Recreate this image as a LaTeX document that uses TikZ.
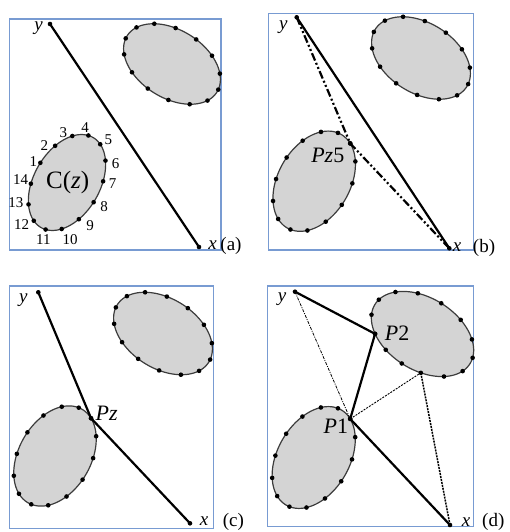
\documentclass[tikz,border=0pt]{standalone}
\usepackage{fontspec}
\setmainfont{Liberation Serif}
\definecolor{framec}{RGB}{120,155,210}
\definecolor{blobfill}{RGB}{212,212,212}
\definecolor{blobedge}{RGB}{60,60,60}
\tikzset{
 panel/.style={draw=framec, line width=1.3pt},
 blob/.style={fill=blobfill, draw=blobedge, line width=1.2pt},
 pdot/.style={fill=black},
 mainline/.style={line width=2.2pt, black, line cap=round, line join=round},
 ddline/.style={line width=2.2pt, black, dash pattern=on 8pt off 2.5pt on 2pt off 2.5pt on 2pt off 2.5pt},
 thindd/.style={line width=0.8pt, black, dash pattern=on 3pt off 1.2pt on 1pt off 1.2pt},
 dotline/.style={line width=0.9pt, black, dash pattern=on 2pt off 1.2pt},
 dbline/.style={line width=1.5pt, black, dash pattern=on 2pt off 1pt},
 lab/.style={font=\fontsize{19}{19}\selectfont, inner sep=0pt},
 plab/.style={font=\fontsize{22}{22}\selectfont, inner sep=0pt},
 num/.style={font=\fontsize{15}{15}\selectfont, inner sep=0pt},
}
\newcommand\drawblob[5]{\filldraw[blob] plot[domain=0:360,samples=120,variable=\t] ({#1+#3*cos(\t)*cos(#5)-#4*sin(\t)*sin(#5)},{#2+#3*cos(\t)*sin(#5)+#4*sin(\t)*cos(#5)}) -- cycle;}
\newcommand\blobpt[7]{\coordinate (#7) at ({#1+#3*cos(#6)*cos(#5)-#4*sin(#6)*sin(#5)},{#2+#3*cos(#6)*sin(#5)+#4*sin(#6)*cos(#5)});}
\newcommand\blobdots[7]{\foreach \k in {1,...,14}{\pgfmathsetmacro\tang{#6+(\k-1)*360/14}\blobpt{#1}{#2}{#3}{#4}{#5}{\tang}{#7\k}\fill[pdot] (#7\k) circle[radius=2.3pt];}}
\begin{document}
\begin{tikzpicture}[x=1pt,y=-1pt]
\useasboundingbox (0,0) rectangle (509,532);
% ---------------- panel (a)
\draw[panel] (9.3,19) rectangle (221,250);
\drawblob{172}{64}{53}{34}{32}
\blobdots{172}{64}{53}{34}{32}{21}{au}
\drawblob{67}{182.5}{52}{33}{-60}
\node[inner sep=0pt, font=\fontsize{25}{25}\selectfont] (cz) at (67.7,182.5) {C(\textit{z})};
\coordinate (ya) at (50,24);
\coordinate (xa) at (199,247);
\draw[mainline] (ya) -- (xa);
\fill[pdot] (ya) circle[radius=2.3pt];
\fill[pdot] (xa) circle[radius=2.3pt];
\blobdots{67}{182.5}{52}{33}{-60}{-85.86}{al}
\node[lab] (lya) at (38.5,28) {\textit{y}};
\node[lab] (lxa) at (212.5,245.5) {\textit{x}};
\node[lab] (capa) at (231,246) {(a)};
\node[num] (n1) at (33.3,161.7) {1};
\node[num] (n2) at (44.3,146) {2};
\node[num] (n3) at (63.3,132.7) {3};
\node[num] (n4) at (85,127.3) {4};
\node[num] (n5) at (108.3,139.3) {5};
\node[num] (n6) at (115.7,163.3) {6};
\node[num] (n7) at (112.7,184) {7};
\node[num] (n8) at (104,206.7) {8};
\node[num] (n9) at (90,226) {9};
\node[num] (n10) at (70,239.3) {10};
\node[num] (n11) at (43.3,240) {11};
\node[num] (n12) at (21.7,225) {12};
\node[num] (n13) at (16,202.7) {13};
\node[num] (n14) at (20.7,180) {14};
% ---------------- panel (b)
\draw[panel] (268.3,13.3) rectangle (473.3,250);
\drawblob{421}{58}{54}{35}{32}
\blobdots{421}{58}{54}{35}{32}{21}{bu}
\drawblob{314.2}{181.2}{54}{36}{-60}
\blobdots{314.2}{181.2}{54}{36}{-60}{20}{bl}
\coordinate (yb) at (296.7,17.3);
\coordinate (xb) at (449.3,248.3);
\draw[ddline] (yb) -- (bl1) -- (xb);
\draw[mainline] (yb) -- (xb);
\fill[pdot] (bl1) circle[radius=2.3pt];
\fill[pdot] (yb) circle[radius=2.3pt];
\fill[pdot] (xb) circle[radius=2.3pt];
\node[plab] (pz5) at (327.8,155.8) {\textit{Pz}5};
\node[lab] (lyb) at (283.3,26.7) {\textit{y}};
\node[lab] (lxb) at (457,247.5) {\textit{x}};
\node[lab] (capb) at (484,247.7) {(b)};
% ---------------- panel (c)
\draw[panel] (9.3,286) rectangle (213.3,528.3);
\drawblob{163}{333.5}{54}{35}{32}
\blobdots{163}{333.5}{54}{35}{32}{21}{cu}
\drawblob{55}{456}{54}{36}{-60}
\coordinate (yc) at (38.3,292.3);
\coordinate (xc) at (190,523.3);
\blobdots{55}{456}{54}{36}{-60}{20}{cl}
\draw[mainline] (yc) -- (cl1) -- (xc);
\fill[pdot] (cl1) circle[radius=2.3pt];
\fill[pdot] (yc) circle[radius=2.3pt];
\fill[pdot] (xc) circle[radius=2.3pt];
\node[plab] (pz) at (106.7,413.3) {\textit{Pz}};
\node[lab] (lyc) at (23.3,300) {\textit{y}};
\node[lab] (lxc) at (204,520.8) {\textit{x}};
\node[lab] (capc) at (233.3,522) {(c)};
% ---------------- panel (d)
\draw[panel] (267.7,286) rectangle (473.3,526.7);
\drawblob{422.5}{334}{56}{36}{32}
\foreach \tang [count=\k] in {70,92,114,136,162.7,189.5,216.2,242.9,269.6,296.4,323.1,349.8,376.5,403.3}{\blobpt{422.5}{334}{56}{36}{32}{\tang}{du\k}\fill[pdot] (du\k) circle[radius=2.3pt];}
\drawblob{313.7}{457.5}{55}{36}{-60}
\blobdots{313.7}{457.5}{55}{36}{-60}{20}{dl}
\coordinate (yd) at (295,291.7);
\coordinate (xd) at (450,525);
\draw[thindd] (yd) -- (dl1);
\draw[dotline] (dl1) -- (du1);
\draw[dbline] (du1) -- (xd);
\draw[mainline] (yd) -- (du4) -- (dl1) -- (xd);
\fill[pdot] (yd) circle[radius=2.3pt];
\fill[pdot] (xd) circle[radius=2.3pt];
\fill[pdot] (dl1) circle[radius=2.3pt];
\fill[pdot] (du4) circle[radius=2.3pt];
\node[plab] (p2) at (397.2,333.3) {\textit{P}2};
\node[plab] (p1) at (335.8,425.8) {\textit{P}1};
\node[lab] (lyd) at (282,299) {\textit{y}};
\node[lab] (lxd) at (466,522) {\textit{x}};
\node[lab] (capd) at (493.3,522) {(d)};
\end{tikzpicture}
\end{document}
